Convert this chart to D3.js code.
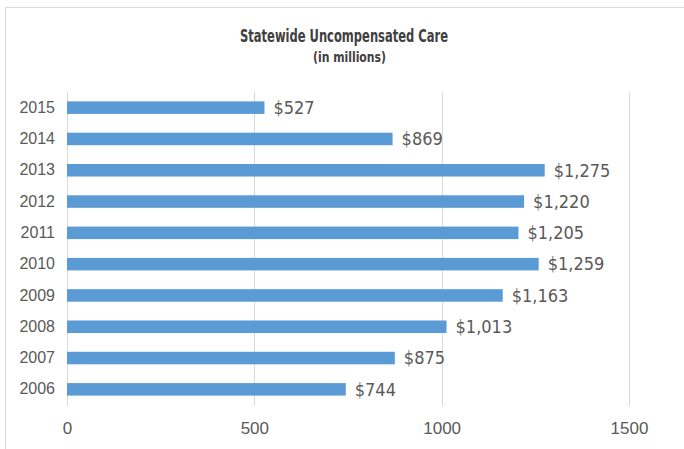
<!DOCTYPE html>
<html>
<head>
<meta charset="utf-8">
<script src="https://cdn.jsdelivr.net/npm/d3@7"></script>
<style>
  body { margin: 0; background: #fff; }
  text { font-family: "Liberation Sans Narrow", "DejaVu Sans Condensed", sans-serif; }
</style>
</head>
<body>
<script>
// chart data
var years = ['2015', '2014', '2013', '2012', '2011', '2010', '2009', '2008', '2007', '2006'];
var values = [527, 869, 1275, 1220, 1205, 1259, 1163, 1013, 875, 744];
var tickValues = [0, 500, 1000, 1500];

var width = 684, height = 449;
var svg = d3.select('body').append('svg')
	.attr('width', width)
	.attr('height', height);

// outer frame
svg.append('rect')
	.attr('x', 5.5).attr('y', 7.5)
	.attr('width', 700).attr('height', 450)
	.attr('fill', 'none')
	.attr('stroke', '#d9d9d9');

svg.append('text')
	.attr('x', 240).attr('y', 42)
	.attr('font-size', 18)
	.attr('font-weight', 'bold')
	.attr('fill', '#404040')
	.attr('textLength', 208)
	.attr('lengthAdjust', 'spacingAndGlyphs')
	.text('Statewide Uncompensated Care');
svg.append('text')
	.attr('x', 313).attr('y', 62)
	.attr('font-size', 14)
	.attr('font-weight', 'bold')
	.attr('fill', '#404040')
	.attr('textLength', 73)
	.attr('lengthAdjust', 'spacingAndGlyphs')
	.text('(in millions)');

var x = d3.scaleLinear().domain([0, 1500]).range([67, 629]);
var y = d3.scaleBand().domain(years).range([92, 405]).paddingInner(0.6).paddingOuter(0.3);

// gridlines
svg.append('g').selectAll('line')
	.data(tickValues)
	.enter().append('line')
	.attr('x1', function(d) { return Math.round(x(d)) + 0.5; })
	.attr('x2', function(d) { return Math.round(x(d)) + 0.5; })
	.attr('y1', 92).attr('y2', 406)
	.attr('stroke', '#d9d9d9');

// x axis
var xAxis = svg.append('g')
	.attr('transform', 'translate(0,406)')
	.call(d3.axisBottom(x).tickValues(tickValues).tickSize(0).tickPadding(16).tickFormat(d3.format('d')));
xAxis.select('.domain').remove();
xAxis.selectAll('text').attr('font-size', 17).attr('fill', '#595959')
	.style('font-family', '"Liberation Sans Narrow", sans-serif');

// y axis
var yAxis = svg.append('g')
	.attr('transform', 'translate(58,0)')
	.call(d3.axisLeft(y).tickSize(0).tickPadding(3));
yAxis.select('.domain').remove();
yAxis.selectAll('text').attr('font-size', 16).attr('fill', '#595959')
	.style('font-family', '"Liberation Sans Narrow", sans-serif');

// bars
svg.append('g').selectAll('rect')
	.data(values)
	.enter().append('rect')
	.attr('x', x(0))
	.attr('y', function(d, i) { return y(years[i]); })
	.attr('width', function(d) { return x(d) - x(0); })
	.attr('height', y.bandwidth())
	.attr('fill', '#5b9bd5');

// value labels
svg.append('g').selectAll('text')
	.data(values)
	.enter().append('text')
	.attr('x', function(d) { return x(d) + 9; })
	.attr('y', function(d, i) { return y(years[i]) + y.bandwidth() / 2; })
	.attr('dy', '0.35em')
	.attr('font-size', 18)
	.attr('fill', '#595959')
	.text(function(d) { return '$' + d3.format(',')(d); });
</script>
</body>
</html>
